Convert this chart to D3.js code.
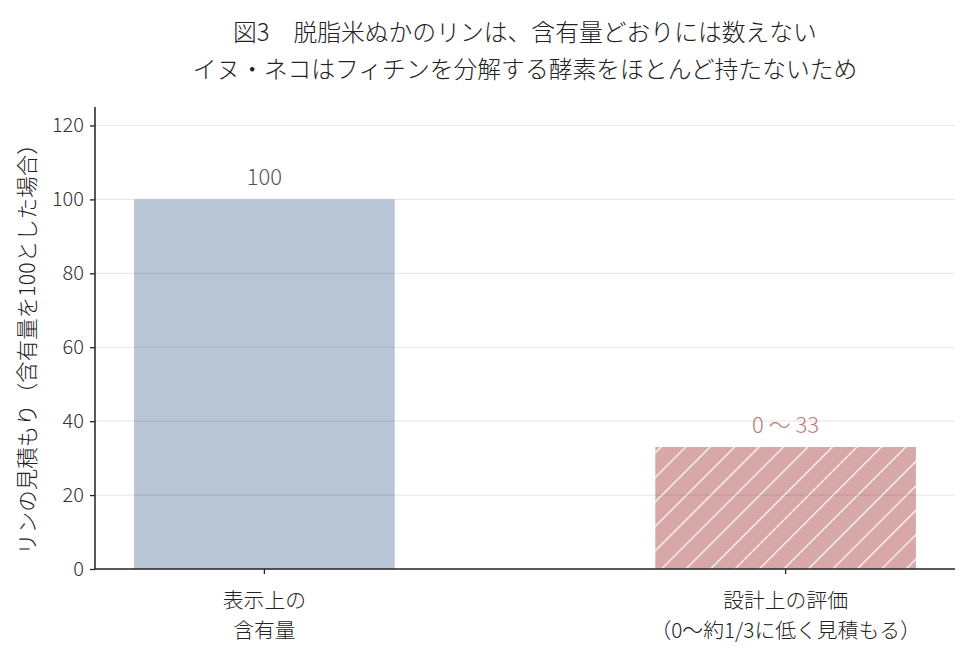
<!DOCTYPE html>
<html>
<head>
<meta charset="utf-8">
<script src="https://cdn.jsdelivr.net/npm/d3@7"></script>
<style>
  body { margin: 0; background: #fff; }
  text { font-family: "Noto Sans CJK JP", "Noto Sans", sans-serif; }
</style>
</head>
<body>
<div id="chart"></div>
<script>
// data
const categories = ["表示上の\n含有量", "設計上の評価\n（0〜約1/3に低く見積もる）"];
const values = [100, 33];
const valueLabels = ["100", "0 〜 33"];
const yTicks = [0, 20, 40, 60, 80, 100, 120];
const titleLines = ["図3　脱脂米ぬかのリンは、含有量どおりには数えない",
                    "イヌ・ネコはフィチンを分解する酵素をほとんど持たないため"];
const yLabel = "リンの見積もり（含有量を100とした場合）";

const barColors = ["#b8c5d5", "#d8a8a9"];
const labelColors = ["#555555", "#c27676"];

const W = 970, H = 661;
const margin = { top: 107, right: 15, bottom: 92, left: 95 };
const width = W - margin.left - margin.right;
const height = H - margin.top - margin.bottom;

const svg = d3.select("#chart").append("svg")
    .attr("width", W)
    .attr("height", H);

// hatch pattern for the second bar
const defs = svg.append("defs");
const pat = defs.append("pattern")
    .attr("id", "hatch")
    .attr("patternUnits", "userSpaceOnUse")
    .attr("width", 17.3)
    .attr("height", 17.3)
    .attr("patternTransform", "rotate(45)");
pat.append("rect").attr("width", 17.3).attr("height", 17.3).attr("fill", barColors[1]);
pat.append("line")
    .attr("x1", 0).attr("y1", 0).attr("x2", 0).attr("y2", 17.3)
    .attr("stroke", "#fff").attr("stroke-width", 2.4);

const g = svg.append("g")
    .attr("transform", "translate(" + margin.left + "," + margin.top + ")");

const x = d3.scaleBand()
    .domain(categories)
    .range([0, width])
    .paddingInner(0.5)
    .paddingOuter(0.075);

const y = d3.scaleLinear()
    .domain([0, 125])
    .range([height, 0]);

// title
svg.append("g").selectAll("text")
    .data(titleLines)
    .enter().append("text")
    .attr("x", margin.left + width / 2)
    .attr("y", (d, i) => 41 + i * 37)
    .attr("text-anchor", "middle")
    .attr("font-size", 23.8)
    .attr("font-weight", 300)
    .attr("fill", "#222")
    .text(d => d);

// bars
g.selectAll(".bar")
    .data(values)
    .enter().append("rect")
    .attr("class", "bar")
    .attr("x", (d, i) => x(categories[i]))
    .attr("y", d => y(d))
    .attr("width", x.bandwidth())
    .attr("height", d => height - y(d))
    .attr("fill", (d, i) => i === 1 ? "url(#hatch)" : barColors[i]);

// grid on top, faint
g.append("g")
    .selectAll("line")
    .data(yTicks.slice(1))
    .enter().append("line")
    .attr("x1", 0).attr("x2", width)
    .attr("y1", d => y(d)).attr("y2", d => y(d))
    .attr("stroke", "#000")
    .attr("stroke-opacity", 0.09)
    .attr("stroke-width", 1.2);

// value labels
g.selectAll(".val")
    .data(values)
    .enter().append("text")
    .attr("class", "val")
    .attr("x", (d, i) => x(categories[i]) + x.bandwidth() / 2)
    .attr("y", d => y(d) - 14)
    .attr("text-anchor", "middle")
    .attr("font-size", 22)
    .attr("font-weight", 300)
    .attr("fill", (d, i) => labelColors[i])
    .text((d, i) => valueLabels[i]);

// y axis
const yAxis = g.append("g")
    .call(d3.axisLeft(y).tickValues(yTicks).tickSize(5).tickPadding(6));
yAxis.select(".domain").attr("stroke", "#222").attr("stroke-width", 1.5)
    .attr("d", "M0," + height + "V0");
yAxis.selectAll(".tick line").attr("stroke", "#222").attr("stroke-width", 1.3);
yAxis.selectAll(".tick text")
    .attr("font-size", 20).attr("fill", "#333")
    .attr("font-weight", 300)
    .style("font-family", "'Noto Sans CJK JP', sans-serif");

// x axis
const xAxis = g.append("g")
    .attr("transform", "translate(0," + height + ")")
    .call(d3.axisBottom(x).tickSize(5).tickFormat(""));
xAxis.select(".domain").attr("stroke", "#222").attr("stroke-width", 1.5)
    .attr("d", "M0,0H" + width);
xAxis.selectAll(".tick line").attr("stroke", "#222").attr("stroke-width", 1.3);

xAxis.selectAll(".tick").each(function(d) {
    const t = d3.select(this).append("text")
        .attr("text-anchor", "middle")
        .attr("font-size", 20.8)
        .attr("font-weight", 300)
        .attr("fill", "#222");
    d.split("\n").forEach((line, i) => {
        t.append("tspan").attr("x", 0).attr("y", 39 + i * 30).text(line);
    });
});

// y label
svg.append("text")
    .attr("transform", "translate(35," + (margin.top + height / 2 + 6) + ") rotate(-90)")
    .attr("text-anchor", "middle")
    .attr("font-size", 21.5)
    .attr("font-weight", 300)
    .attr("fill", "#222")
    .text(yLabel);
</script>
</body>
</html>
